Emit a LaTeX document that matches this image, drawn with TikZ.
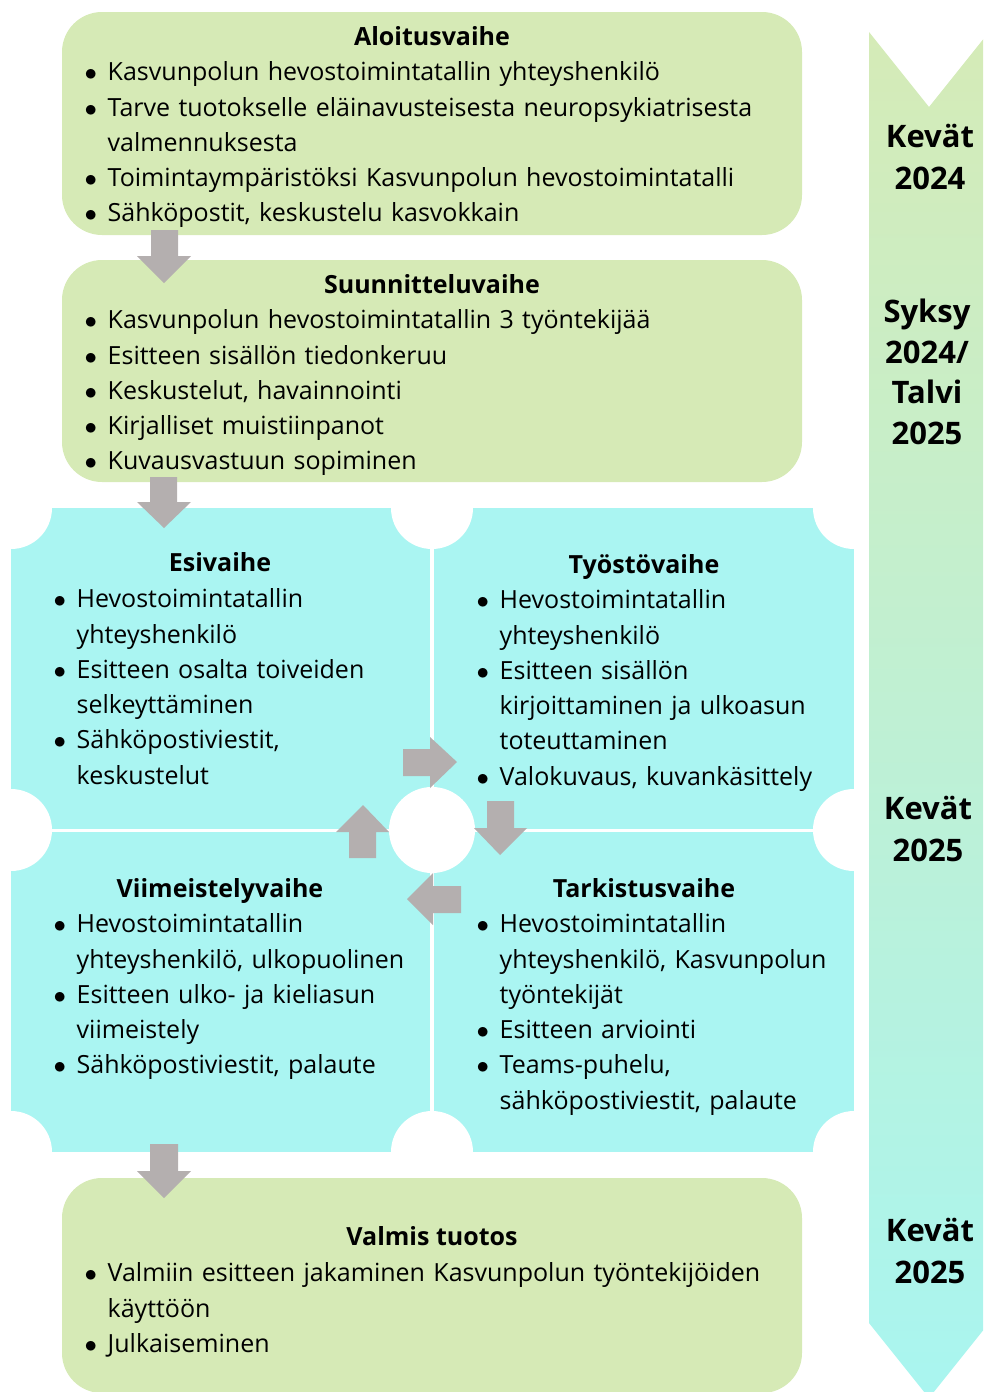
\documentclass[tikz,border=0pt]{standalone}
\usepackage{fontspec}
\setmainfont{Open Sans}
\definecolor{boxgreen}{HTML}{D6EAB6}
\definecolor{boxcyan}{HTML}{AAF5F2}
\definecolor{arrgray}{HTML}{B4AFAF}
\definecolor{tlgreen}{HTML}{D5EBB7}
\definecolor{tlcyan}{HTML}{A9F5F0}
\newcommand{\bitem}[1]{\par\hangindent=23pt\hangafter=1\noindent\strut\makebox[23pt][l]{$\bullet$}#1}
\tikzset{
  x=1pt, y=-1pt,
  bodytext/.style={anchor=north west, inner sep=0pt, font=\fontsize{25}{35.25}\selectfont},
  titletext/.style={anchor=base, inner sep=0pt, font=\fontsize{25}{30}\selectfont\bfseries},
  timetext/.style={inner sep=0pt, align=center, font=\fontsize{31}{42.5}\selectfont\bfseries},
  blockarrow/.style={fill=arrgray},
  greenbox/.style={fill=boxgreen, rounded corners=40pt},
}
\begin{document}
\begin{tikzpicture}
\useasboundingbox (0,0) rectangle (983,1392);
\clip (0,0) rectangle (983,1392);
% green boxes
\fill[greenbox] (62,12) rectangle (802,235);
\fill[greenbox] (62,260) rectangle (802,482);
\fill[greenbox] (62,1178) rectangle (802,1393);
% cyan quad
\fill[boxcyan] (11,508) rectangle (430,829);
\fill[boxcyan] (434,508) rectangle (854,829);
\fill[boxcyan] (11,832) rectangle (430,1152);
\fill[boxcyan] (434,832) rectangle (854,1152);
\begin{scope}
\clip (11,508) rectangle (854,1152);
\foreach \cx/\cy in {11/508,432/508,854/508,11/830,854/830,11/1152,432/1152,854/1152}
  \fill[white] (\cx,\cy) circle[radius=41];
\fill[white] (432,830) circle[radius=43];
\end{scope}
% timeline
\shade[top color=tlgreen, bottom color=tlcyan] (869,32) -- (929,107) -- (989,32) -- (989,1323) -- (929,1398) -- (869,1323) -- cycle;
% arrows
\fill[blockarrow] (151,230) -- (178,230) -- (178,256) -- (191,256) -- (164,283) -- (137,256) -- (151,256) -- cycle;
\fill[blockarrow] (150,477) -- (177,477) -- (177,502) -- (191,502) -- (164,528) -- (137,502) -- (150,502) -- cycle;
\fill[blockarrow] (150,1144) -- (178,1144) -- (178,1171) -- (191,1171) -- (164,1198) -- (137,1171) -- (150,1171) -- cycle;
\fill[blockarrow] (403,749) -- (430,749) -- (430,737) -- (457,762) -- (430,788) -- (430,776) -- (403,776) -- cycle;
\fill[blockarrow] (487,801) -- (514,801) -- (514,828) -- (527,828) -- (500,855) -- (474,828) -- (487,828) -- cycle;
\fill[blockarrow] (461,886) -- (433,886) -- (433,873) -- (407,899) -- (433,925) -- (433,913) -- (461,913) -- cycle;
\fill[blockarrow] (349,858) -- (376,858) -- (376,832) -- (389,832) -- (363,805) -- (336,832) -- (349,832) -- cycle;
% titles
\node[titletext] (t1) at (432,45) {Aloitusvaihe};
\node[titletext] (t2) at (432,293) {Suunnitteluvaihe};
\node[titletext] (t3) at (220,571) {Esivaihe};
\node[titletext] (t4) at (644,573) {Työstövaihe};
\node[titletext] (t5) at (220,897) {Viimeistelyvaihe};
\node[titletext] (t6) at (644,897) {Tarkistusvaihe};
\node[titletext] (t7) at (432,1245) {Valmis tuotos};
% bodies
\node[bodytext, text width=760pt] (b1) at (84.5,45.5) {%
\bitem{Kasvunpolun hevostoimintatallin yhteyshenkilö}
\bitem{Tarve tuotokselle eläinavusteisesta neuropsykiatrisesta\newline valmennuksesta}
\bitem{Toimintaympäristöksi Kasvunpolun hevostoimintatalli}
\bitem{Sähköpostit, keskustelu kasvokkain}\par};
\node[bodytext, text width=760pt] (b2) at (84.5,293.5) {%
\bitem{Kasvunpolun hevostoimintatallin 3 työntekijää}
\bitem{Esitteen sisällön tiedonkeruu}
\bitem{Keskustelut, havainnointi}
\bitem{Kirjalliset muistiinpanot}
\bitem{Kuvausvastuun sopiminen}\par};
\node[bodytext, text width=400pt] (b3) at (53.5,572.5) {%
\bitem{Hevostoimintatallin\newline yhteyshenkilö}
\bitem{Esitteen osalta toiveiden\newline selkeyttäminen}
\bitem{Sähköpostiviestit,\newline keskustelut}\par};
\node[bodytext, text width=400pt] (b4) at (476.5,573.5) {%
\bitem{Hevostoimintatallin\newline yhteyshenkilö}
\bitem{Esitteen sisällön\newline kirjoittaminen ja ulkoasun\newline toteuttaminen}
\bitem{Valokuvaus, kuvankäsittely}\par};
\node[bodytext, text width=400pt] (b5) at (53.5,897.5) {%
\bitem{Hevostoimintatallin\newline yhteyshenkilö, ulkopuolinen}
\bitem{Esitteen ulko- ja kieliasun\newline viimeistely}
\bitem{Sähköpostiviestit, palaute}\par};
\node[bodytext, text width=400pt] (b6) at (476.5,897.5) {%
\bitem{Hevostoimintatallin\newline yhteyshenkilö, Kasvunpolun\newline työntekijät}
\bitem{Esitteen arviointi}
\bitem{Teams-puhelu,\newline sähköpostiviestit, palaute}\par};
\node[bodytext, text width=760pt] (b7) at (84.5,1246.5) {%
\bitem{Valmiin esitteen jakaminen Kasvunpolun työntekijöiden\newline käyttöön}
\bitem{Julkaiseminen}\par};
% timeline labels
\node[timetext] (k1) at (930,157) {Kevät\\2024};
\node[timetext, font=\fontsize{31}{40.7}\selectfont\bfseries] (k2) at (927,372) {Syksy\\2024/\\Talvi\\2025};
\node[timetext] (k3) at (928,829) {Kevät\\2025};
\node[timetext] (k4) at (930,1251) {Kevät\\2025};
\end{tikzpicture}
\end{document}
